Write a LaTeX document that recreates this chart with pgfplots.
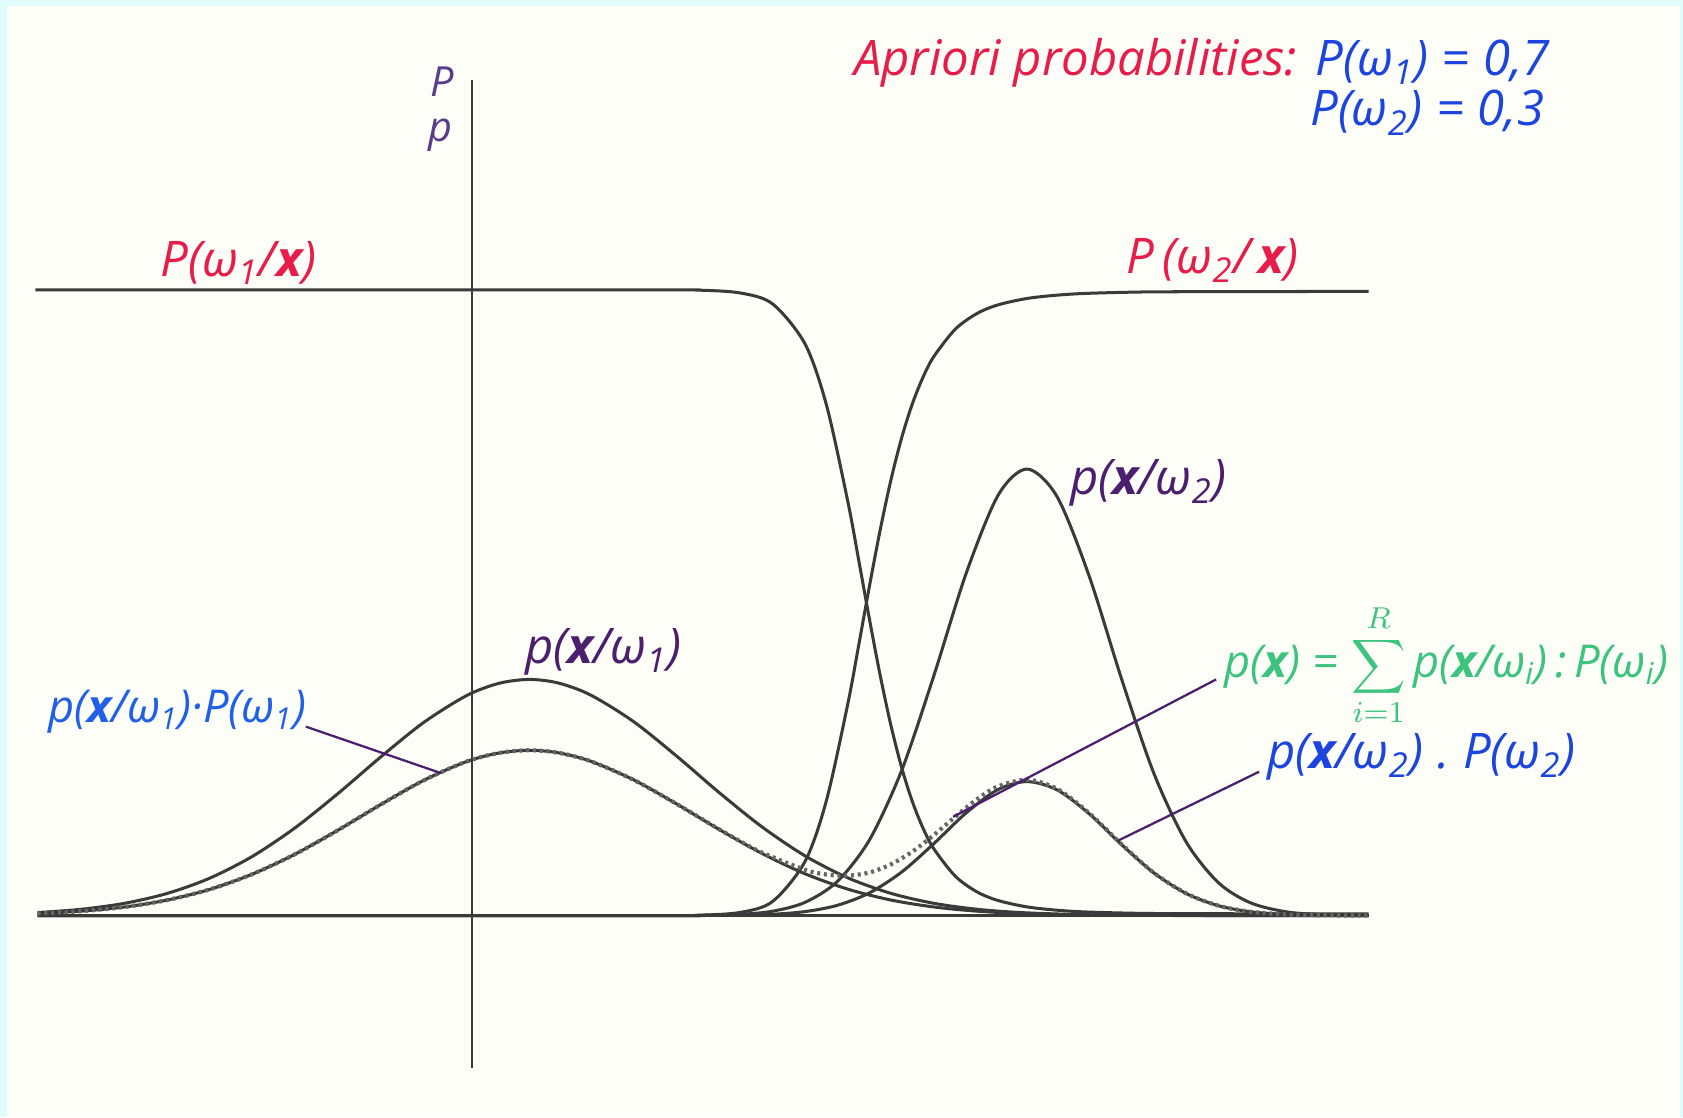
\documentclass[border=0pt]{standalone}
\usepackage{pgfplots}
\pgfplotsset{compat=1.18}
\usepackage{fontspec}
\setmainfont{Open Sans}

\definecolor{paper}{HTML}{FDFEF7}
\definecolor{edge}{HTML}{E0FCFC}
\definecolor{curve}{HTML}{3A3A3A}
\definecolor{pen red}{HTML}{E81C48}
\definecolor{pen blue}{HTML}{2060E8}
\definecolor{pen dblue}{HTML}{1C45E0}
\definecolor{pen green}{HTML}{3CC37D}
\definecolor{pen purple}{HTML}{4B1E6E}
\definecolor{pen violet}{HTML}{5A3C8C}

\newcommand{\sub}[1]{\textsubscript{#1}}
\newcommand{\hw}{\itshape\fontsize{13}{15}\selectfont}
\newcommand{\hws}{\itshape\fontsize{12}{14}\selectfont}
\newcommand{\hwt}{\itshape\fontsize{11}{12}\selectfont}

\begin{document}
\begin{tikzpicture}
\begin{axis}[
    scale only axis,
    width=15.68cm, height=10.41cm,
    xmin=0, xmax=1568, ymin=-188, ymax=853,
    hide axis,
    trace/.style={smooth, no marks, line width=0.8pt, draw=curve, solid},
]
% sheet and its border
\fill[edge] (axis cs:0,-188) rectangle (axis cs:1568,853);
\fill[paper] (axis cs:6.5,-188) rectangle (axis cs:1565,847.5);

% axes
\draw[curve, line width=0.6pt] (axis cs:440,-142) -- (axis cs:440,778);
\draw[curve, line width=1.0pt] (axis cs:35,0) -- (axis cs:1275,0);

% class-conditional density p(x|w1)
\addplot[trace] coordinates {(35,2.80)(75,5.80)(115,11.24)(155,20.41)(195,34.66)(235,55.07)(275,81.82)(315,113.8)(355,148.0)(395,180.1)(435,205.1)(465,216.4)(493,220.0)(520,216.7)(550,205.6)(590,180.9)(630,148.9)(670,114.6)(710,82.57)(750,55.64)(790,35.09)(830,20.70)(870,11.42)(910,5.90)(950,2.85)(1000,1.05)(1050,0.35)(1100,0.10)(1275,0)};
% p(x|w1) P(w1)
\addplot[trace] coordinates {(35,1.96)(75,4.06)(115,7.87)(155,14.29)(195,24.26)(235,38.55)(275,57.27)(315,79.65)(355,103.6)(395,126.1)(435,143.6)(465,151.5)(493,154.0)(520,151.7)(550,143.9)(590,126.6)(630,104.2)(670,80.23)(710,57.80)(750,38.95)(790,24.56)(830,14.49)(870,8.00)(910,4.13)(950,1.99)(1000,0.73)(1050,0.24)(1100,0.07)(1275,0)};
% class-conditional density p(x|w2)
\addplot[trace] coordinates {(35,0)(600,0)(650,0.18)(690,1.19)(720,4.11)(750,12.30)(780,31.69)(810,70.43)(840,135.1)(870,223.4)(900,318.5)(930,391.8)(957,416.0)(985,390.0)(1015,315.5)(1045,220.2)(1075,132.5)(1105,68.76)(1135,30.78)(1165,11.89)(1200,3.25)(1240,0.58)(1275,0.1)};
% p(x|w2) P(w2)
\addplot[trace] coordinates {(35,0)(600,0)(650,0.05)(690,0.36)(720,1.23)(750,3.69)(780,9.51)(810,21.13)(840,40.52)(870,67.01)(900,95.56)(930,117.5)(957,124.8)(985,117.0)(1015,94.65)(1045,66.04)(1075,39.74)(1105,20.63)(1135,9.23)(1165,3.57)(1200,0.97)(1240,0.17)(1275,0.03)};
% posterior P(w1|x)
\addplot[trace] coordinates {(33,583)(600,583)(650,582.7)(690,580.0)(720,569.7)(750,532.6)(770,475.6)(790,385.1)(800,331.2)(810,276.2)(820,223.9)(830,177.3)(840,138.0)(850,106.2)(860,81.3)(870,62.2)(890,36.7)(910,22.2)(930,14.0)(960,7.6)(1000,3.9)(1050,2.3)(1100,1.8)(1275,1.5)};
% posterior P(w2|x)
\addplot[trace] coordinates {(35,0)(600,0)(650,0.3)(690,3.0)(720,13.3)(750,50.4)(770,107.4)(790,197.9)(800,251.8)(810,306.8)(820,359.1)(830,405.7)(840,445.0)(850,476.8)(860,501.7)(870,520.8)(890,546.3)(910,560.8)(930,569.0)(960,575.4)(1000,579.1)(1050,580.7)(1100,581.2)(1275,581.5)};
% mixture density p(x)
\addplot[trace, draw=gray!80!black, densely dotted, line width=1.1pt] coordinates {(35,1.96)(75,4.06)(115,7.87)(155,14.29)(195,24.26)(235,38.55)(275,57.27)(315,79.65)(355,103.6)(395,126.1)(435,143.6)(465,151.5)(493,154.0)(520,151.7)(550,143.9)(590,126.6)(630,104.2)(670,80.37)(690,69.03)(710,58.63)(750,42.64)(770,38.24)(790,37.18)(810,40.15)(830,47.65)(850,59.56)(870,75.01)(890,92.10)(910,108.2)(930,120.4)(957,126.5)(985,118.0)(1015,95.18)(1045,66.31)(1075,39.87)(1105,20.69)(1135,9.26)(1165,3.58)(1200,0.98)(1240,0.17)(1275,0.03)};

% leader lines
\draw[pen purple, line width=0.6pt] (axis cs:285,176) -- (axis cs:410,133);
\draw[pen purple, line width=0.6pt] (axis cs:1133,220) -- (axis cs:888,92);
\draw[pen purple, line width=0.6pt] (axis cs:1173,134) -- (axis cs:1042,70);

% labels
\node[pen violet, font=\hwt, inner sep=0] at (axis cs:412,777) {P};
\node[pen violet, font=\hwt, inner sep=0] at (axis cs:410,727) {p};
\node[pen red, font=\hw, inner sep=0] at (axis cs:222,608) {P(ω\sub{1}/\textbf{x})};
\node[pen red, font=\hw, inner sep=0] at (axis cs:1130,610) {P\,(ω\sub{2}/\,\textbf{x})};
\node[pen purple, font=\hw, inner sep=0] at (axis cs:1070,403) {p(\textbf{x}/ω\sub{2})};
\node[pen purple, font=\hw, inner sep=0] at (axis cs:562,246) {p(\textbf{x}/ω\sub{1})};
\node[pen blue, font=\hws, inner sep=0] at (axis cs:165,190) {p(\textbf{x}/ω\sub{1})·P(ω\sub{1})};
\node[pen green, font=\hws, inner sep=0, anchor=west] at (axis cs:1140,233)
  {p(\textbf{x})\;=\;$\displaystyle\sum_{i=1}^{R}$\,p(\textbf{x}/ω\sub{i})\,:\,P(ω\sub{i})};
\node[pen dblue, font=\hw, inner sep=0, anchor=west] at (axis cs:1180,148) {p(\textbf{x}/ω\sub{2})\;.\;P(ω\sub{2})};
\node[pen red, font=\hw, inner sep=0, anchor=west] at (axis cs:795,795) {Apriori probabilities:};
\node[pen dblue, font=\hw, inner sep=0, anchor=west] at (axis cs:1225,795) {P(ω\sub{1})\;=\;0,7};
\node[pen dblue, font=\hw, inner sep=0, anchor=west] at (axis cs:1220,748) {P(ω\sub{2})\;=\;0,3};
\end{axis}
\end{tikzpicture}
\end{document}
